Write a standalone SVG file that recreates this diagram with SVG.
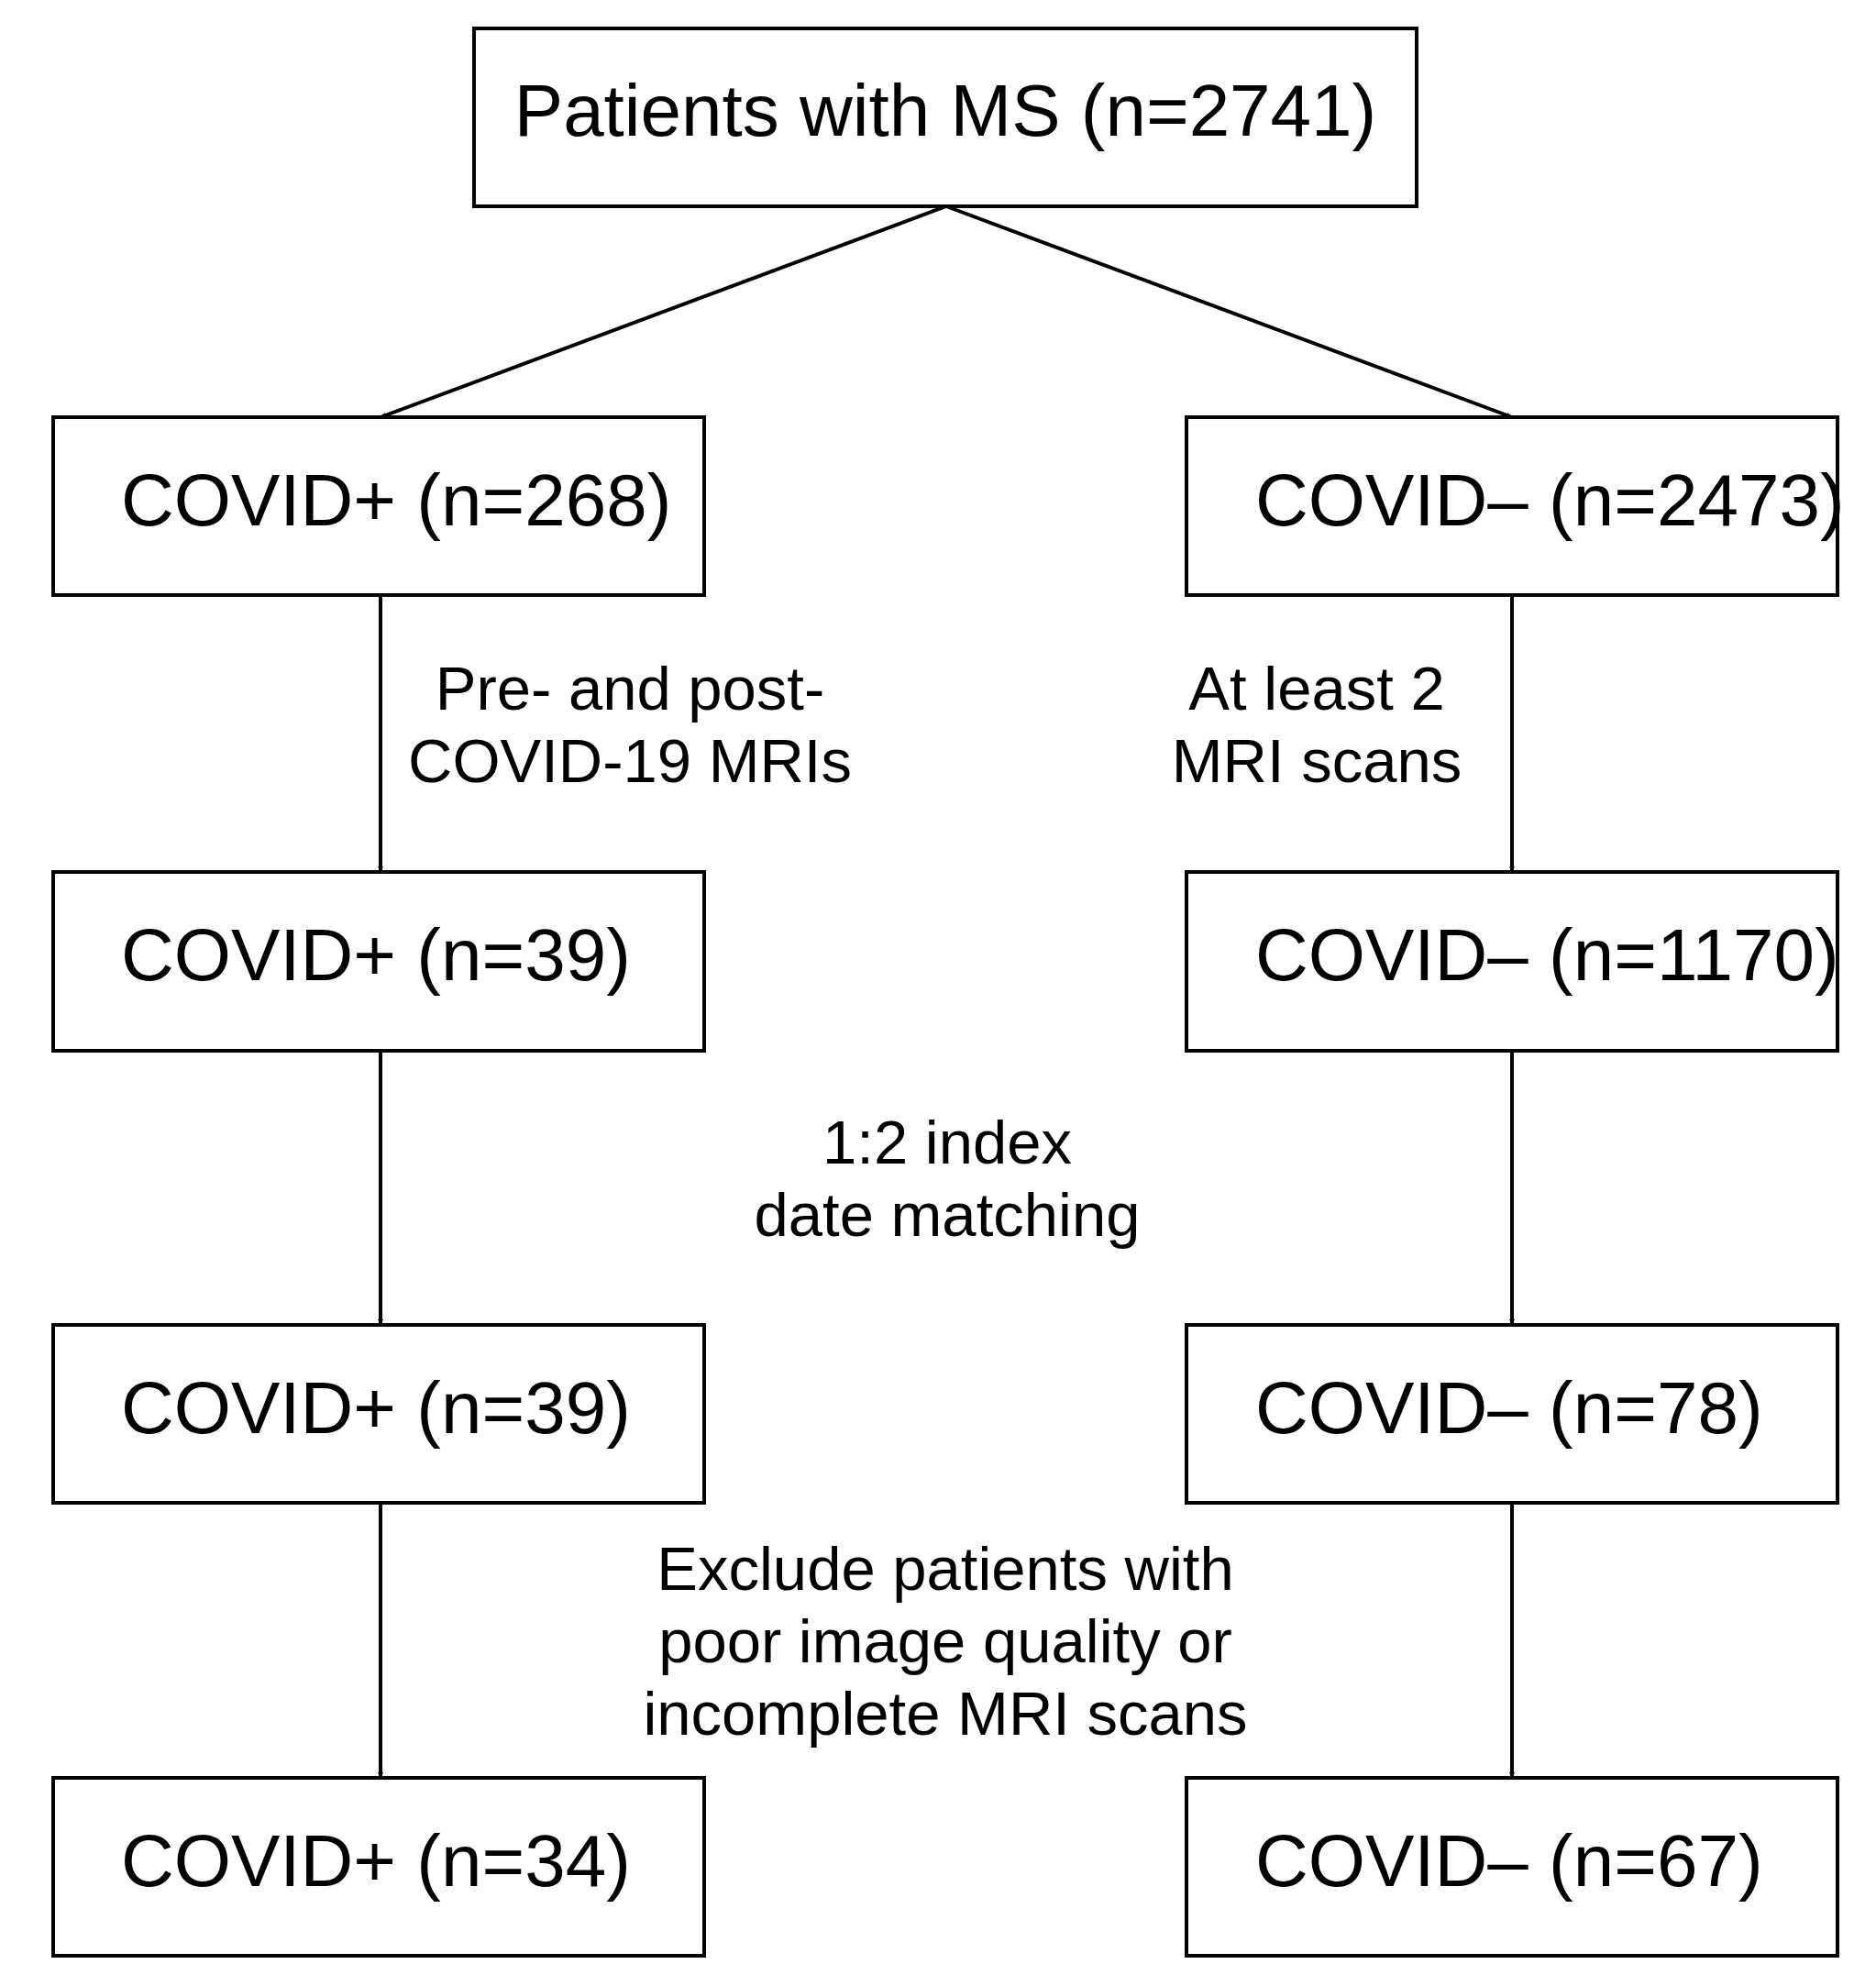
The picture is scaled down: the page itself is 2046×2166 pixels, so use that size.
<svg xmlns="http://www.w3.org/2000/svg" width="2046" height="2166" viewBox="0 0 2046 2166">
<style>
rect{fill:#fff;stroke:#000;stroke-width:4}
text{font-family:"Liberation Sans",Arial,sans-serif;fill:#000}
.n{font-size:80px}
.l{font-size:67px;text-anchor:middle}
line{stroke:#000;stroke-width:4}
</style>
<defs><marker id="a" viewBox="0 0 10 10" refX="10" refY="5" markerWidth="6" markerHeight="6" markerUnits="userSpaceOnUse" orient="auto"><path d="M0,0L10,5L0,10z"/></marker></defs>
<rect width="2046" height="2166" style="stroke:none"/>
<g id="connectors">
<line x1="1032" y1="225" x2="415" y2="455" marker-end="url(#a)" style="stroke-width:4"/>
<line x1="1032" y1="225" x2="1649" y2="455" marker-end="url(#a)"/>
<line x1="415" y1="649" x2="415" y2="951" marker-end="url(#a)"/>
<line x1="1649" y1="649" x2="1649" y2="951" marker-end="url(#a)"/>
<line x1="415" y1="1146" x2="415" y2="1445" marker-end="url(#a)"/>
<line x1="1649" y1="1146" x2="1649" y2="1445" marker-end="url(#a)"/>
<line x1="415" y1="1639" x2="415" y2="1939" marker-end="url(#a)"/>
<line x1="1649" y1="1639" x2="1649" y2="1939" marker-end="url(#a)"/>
</g>
<g id="top"><rect x="517" y="31" width="1028" height="194"/><text class="n" x="1031" y="148" text-anchor="middle">Patients with MS (n=2741)</text></g>
<g id="p1"><rect x="58" y="455" width="710" height="194"/><text class="n" x="132" y="573">COVID+ (n=268)</text></g>
<g id="m1"><rect x="1294" y="455" width="710" height="194"/><text class="n" x="1369" y="573">COVID– (n=2473)</text></g>
<g id="p2"><rect x="58" y="951" width="710" height="195"/><text class="n" x="132" y="1069">COVID+ (n=39)</text></g>
<g id="m2"><rect x="1294" y="951" width="710" height="195"/><text class="n" x="1369" y="1069">COVID– (n=1170)</text></g>
<g id="p3"><rect x="58" y="1445" width="710" height="194"/><text class="n" x="132" y="1563">COVID+ (n=39)</text></g>
<g id="m3"><rect x="1294" y="1445" width="710" height="194"/><text class="n" x="1369" y="1563">COVID– (n=78)</text></g>
<g id="p4"><rect x="58" y="1939" width="710" height="194"/><text class="n" x="132" y="2057">COVID+ (n=34)</text></g>
<g id="m4"><rect x="1294" y="1939" width="710" height="194"/><text class="n" x="1369" y="2057">COVID– (n=67)</text></g>
<g id="labels">
<text class="l" x="687" y="774">Pre- and post-</text><text class="l" x="687" y="853">COVID-19 MRIs</text>
<text class="l" x="1436" y="774">At least 2</text><text class="l" x="1436" y="853">MRI scans</text>
<text class="l" x="1033" y="1269">1:2 index</text><text class="l" x="1033" y="1348">date matching</text>
<text class="l" x="1031" y="1734">Exclude patients with</text><text class="l" x="1031" y="1813">poor image quality or</text><text class="l" x="1031" y="1892">incomplete MRI scans</text>
</g>
</svg>
